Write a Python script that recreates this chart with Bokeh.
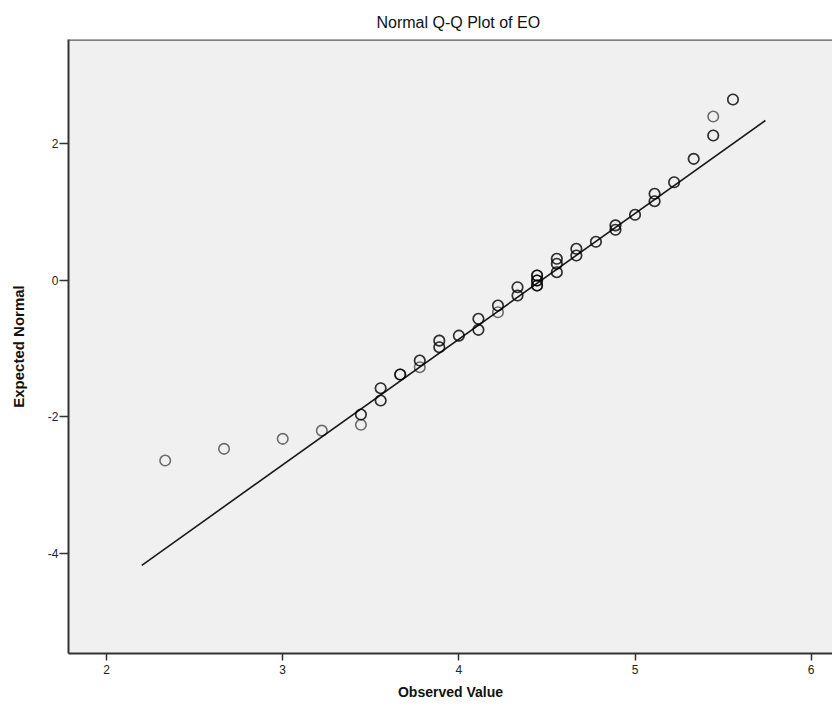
from bokeh.plotting import figure
from bokeh.models import Range1d, FixedTicker, ColumnDataSource, Span, PrintfTickFormatter
from bokeh.embed import file_html
from bokeh.resources import INLINE

# ---- data (Normal Q-Q Plot of EO) ----
observed = [2.333, 2.667, 3.000, 3.222,
            3.444, 3.444, 3.556, 3.556, 3.667, 3.778, 3.778,
            3.889, 3.889, 4.000, 4.111, 4.111, 4.222, 4.222,
            4.333, 4.333, 4.444, 4.444, 4.444,
            4.556, 4.556, 4.556, 4.667, 4.667, 4.778,
            4.889, 4.889, 5.000, 5.111, 5.111, 5.222, 5.333,
            5.444, 5.444, 5.556]
expected = [-2.637, -2.466, -2.320, -2.200,
            -1.965, -2.115, -1.580, -1.760, -1.380, -1.176, -1.273,
            -0.885, -0.981, -0.812, -0.566, -0.727, -0.372, -0.470,
            -0.104, -0.225, 0.067, -0.006, -0.079,
            0.311, 0.238, 0.115, 0.457, 0.359, 0.560,
            0.800, 0.735, 0.954, 1.261, 1.153, 1.430, 1.772,
            2.113, 2.390, 2.639]
# number of coincident cases drawn at each position (darker circles)
overlap = [1, 1, 1, 1,
           2, 1, 2, 2, 3, 2, 1,
           2, 2, 2, 2, 2, 2, 1,
           2, 2, 3, 3, 3,
           2, 2, 2, 2, 2, 2,
           2, 2, 2, 2, 2, 2, 2,
           2, 1, 2]

# reference line: expected = (observed - mean) / sd
line_mean = 4.47
line_sd = 0.5446
line_x = [2.2, 5.74]

x_ticks = [2, 3, 4, 5, 6]
y_ticks = [-4, -2, 0, 2]

# ---- build expanded point table ----
px, py = [], []
for xo, ye, n in zip(observed, expected, overlap):
    for _ in range(n):
        px.append(xo)
        py.append(ye)
src = ColumnDataSource(dict(x=px, y=py))
line_y = [(v - line_mean) / line_sd for v in line_x]
line_src = ColumnDataSource(dict(x=line_x, y=line_y))

SANS = "Liberation Sans, Arial, sans-serif"

X0, X1 = 1.784, 6.121
Y0, Y1 = -5.457, 3.516

p = figure(width=832, height=717, output_backend="svg", toolbar_location=None,
           x_range=Range1d(X0, X1), y_range=Range1d(Y0, Y1),
           min_border_left=68, min_border_right=0, min_border_top=39,
           min_border_bottom=64,
           background_fill_color="#F0F0F0", border_fill_color="white",
           title="Normal Q-Q Plot of EO")

p.title.align = "left"
p.title.offset = 308
p.title.text_font = SANS
p.title.text_font_size = "16px"
p.title.text_font_style = "normal"
p.title.text_color = "#111111"
p.title.standoff = 17

p.grid.visible = False
p.outline_line_color = None

# top border of the frame
p.add_layout(Span(location=Y1, dimension="width", line_color="#5a5a5a", line_width=2.5))

xa = p.below[0]
xa.ticker = FixedTicker(ticks=x_ticks)
xa.formatter = PrintfTickFormatter(format="%d")
xa.axis_label = "Observed Value"
xa.axis_label_text_font = SANS
xa.axis_label_text_font_style = "bold"
xa.axis_label_text_font_size = "14px"
xa.axis_label_text_color = "#111111"
xa.axis_label_standoff = 7
xa.major_label_text_font = SANS
xa.major_label_text_font_size = "12px"
xa.major_label_text_color = "#222222"
xa.major_label_standoff = 4
xa.major_tick_out = 7
xa.major_tick_in = 0
xa.major_tick_line_color = "#333333"
xa.major_tick_line_width = 1.5
xa.minor_tick_line_color = None
xa.axis_line_color = "#333333"
xa.axis_line_width = 2

ya = p.left[0]
ya.ticker = FixedTicker(ticks=y_ticks)
ya.formatter = PrintfTickFormatter(format="%d")
ya.axis_label = "Expected Normal"
ya.axis_label_text_font = SANS
ya.axis_label_text_font_style = "bold"
ya.axis_label_text_font_size = "15px"
ya.axis_label_text_color = "#111111"
ya.axis_label_standoff = 18
ya.major_label_text_font = SANS
ya.major_label_text_font_size = "12px"
ya.major_label_text_color = "#222222"
ya.major_label_standoff = 1
ya.major_tick_out = 9
ya.major_tick_in = 0
ya.major_tick_line_color = "#333333"
ya.major_tick_line_width = 1.5
ya.minor_tick_line_color = None
ya.axis_line_color = "#333333"
ya.axis_line_width = 2

p.line("x", "y", source=line_src, line_color="#1a1a1a", line_width=1.6)
p.scatter("x", "y", source=src, marker="circle", size=10.5,
          fill_color=None, line_color="#000000", line_alpha=0.55, line_width=1.6)

open("out.html", "w").write(file_html(p, INLINE))
